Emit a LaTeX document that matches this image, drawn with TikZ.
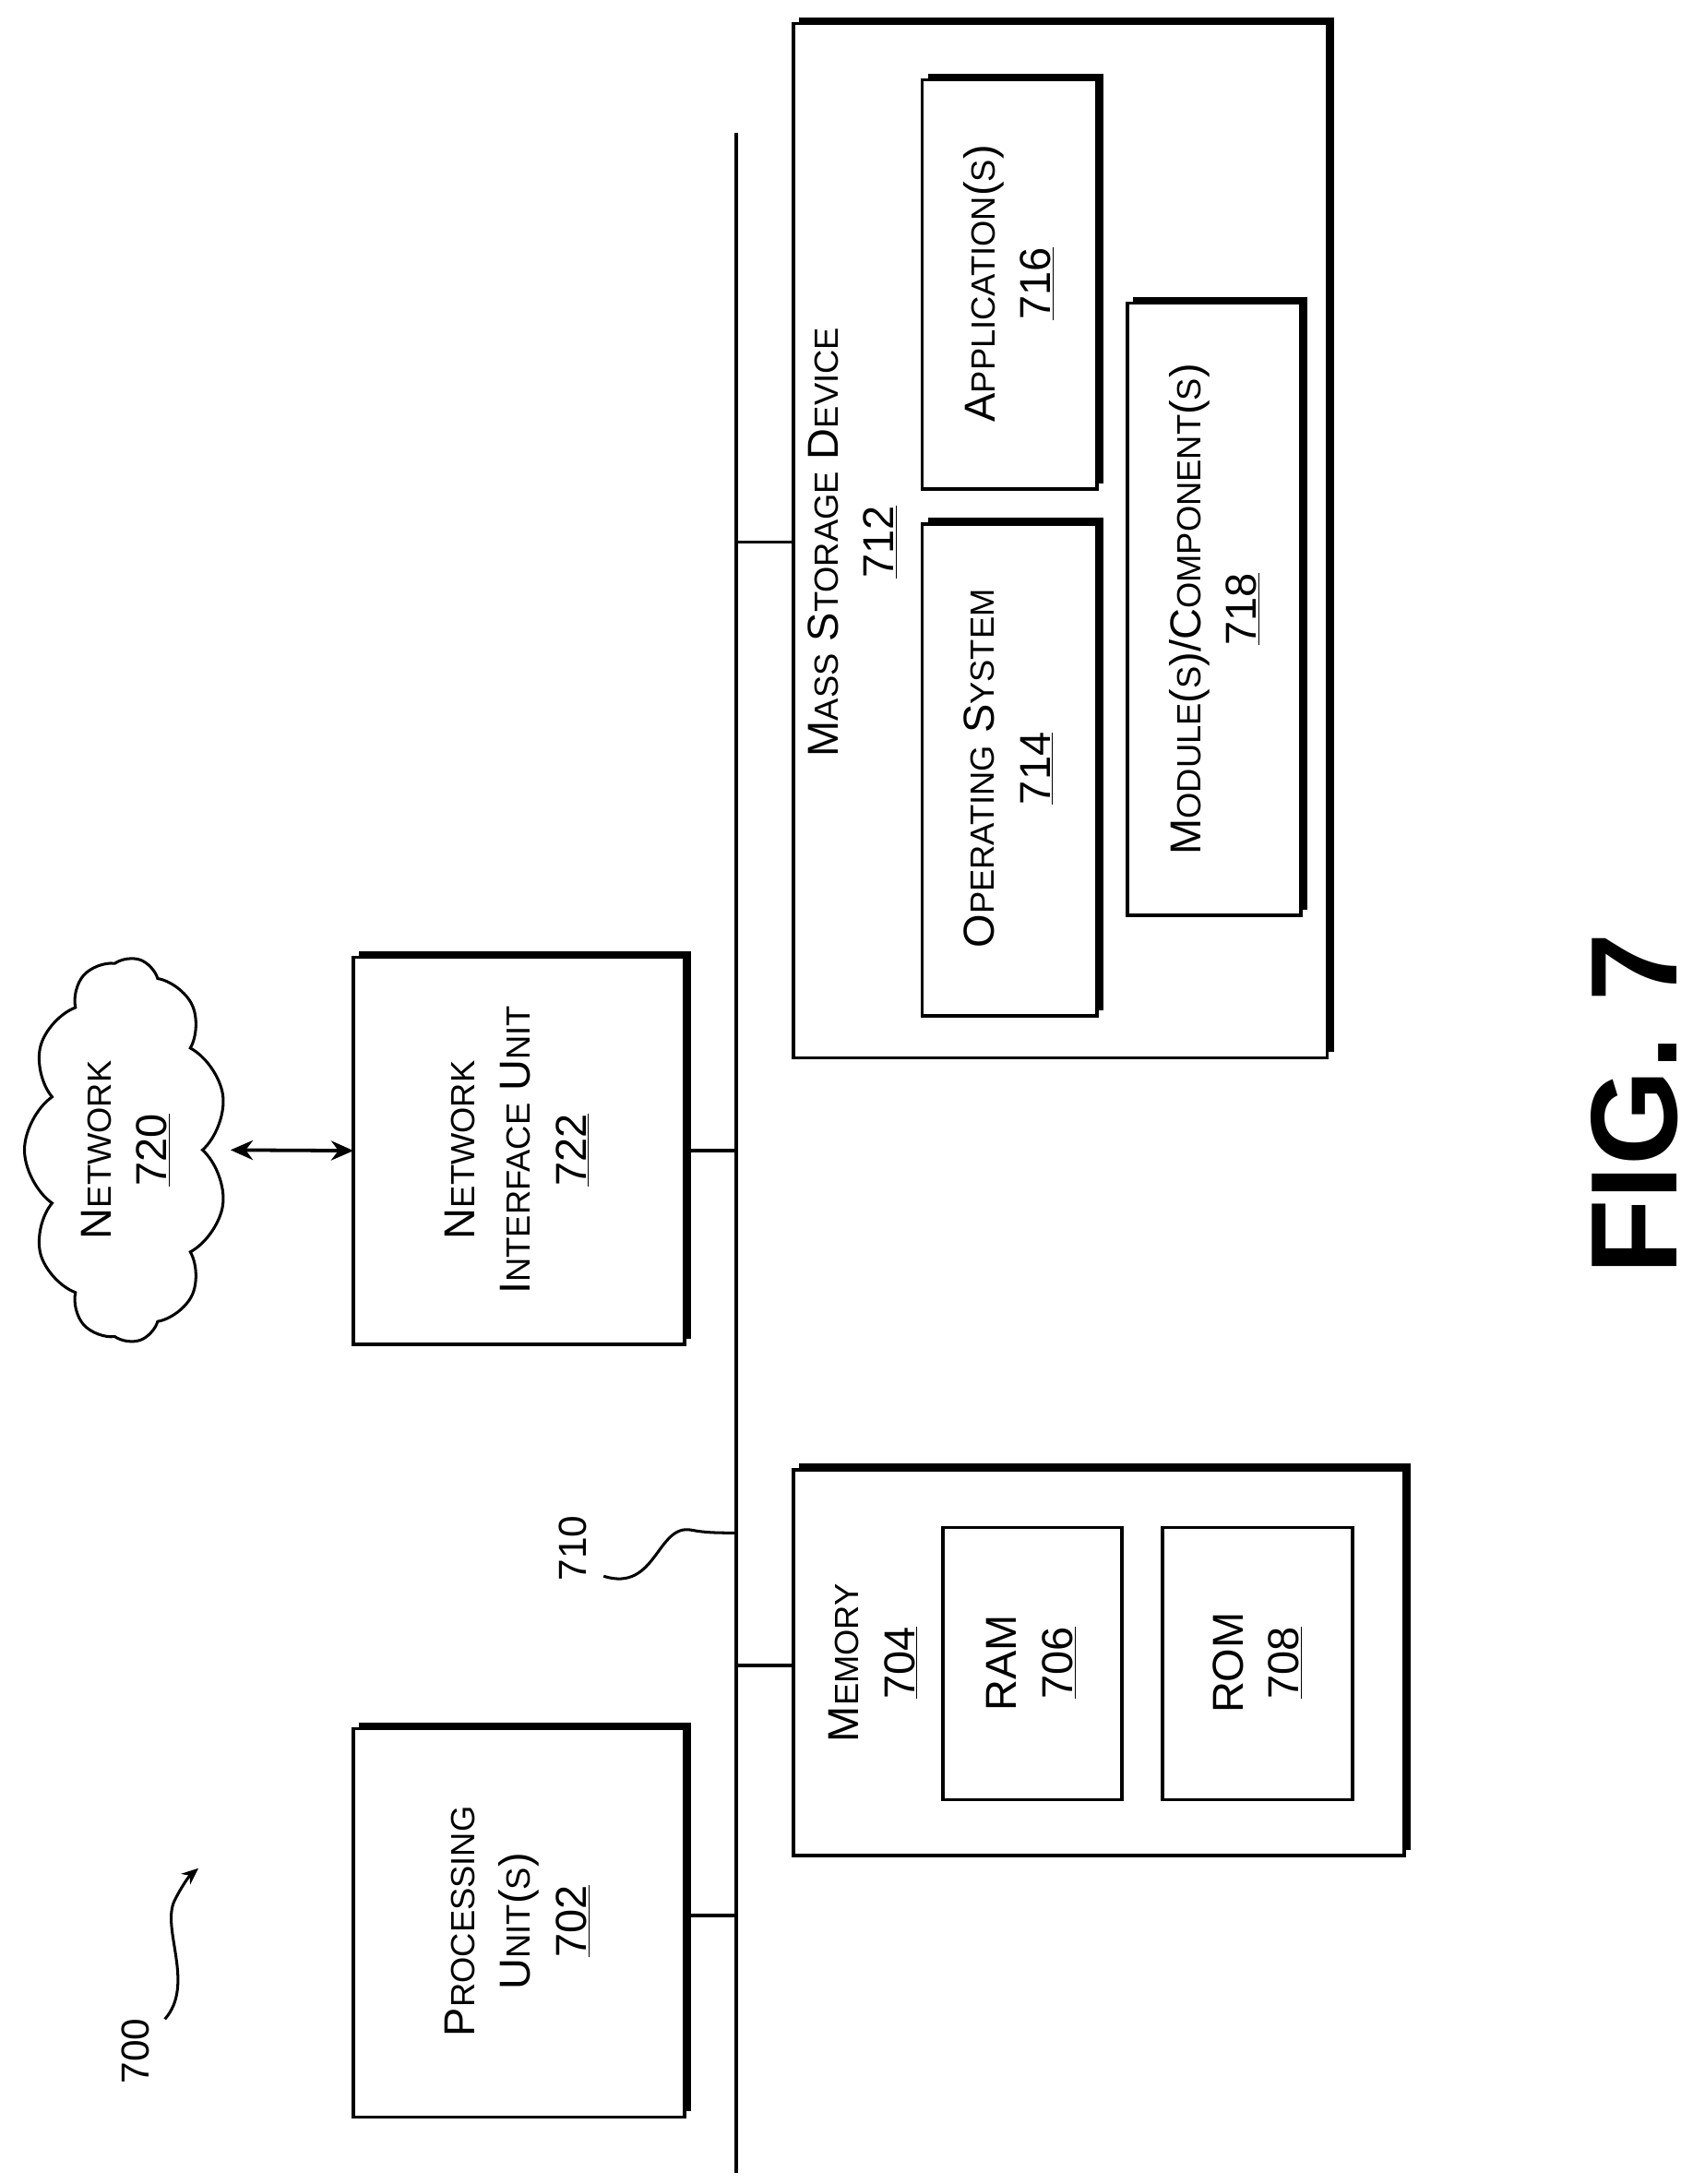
\documentclass[tikz,border=0pt]{standalone}
\usepackage{fontspec}
\setmainfont{Liberation Sans}
\usetikzlibrary{shapes.symbols,arrows.meta}
\newcommand\sm[1]{{\fontsize{24}{28}\selectfont #1}}
\begin{document}
\begin{tikzpicture}[x=1pt,y=-1pt,
  box/.style={draw,line width=2.3pt},
  sh/.style={line width=5pt},
  lbl/.style={rotate=90,align=center,font=\fontsize{31}{40}\selectfont},
  ln/.style={line width=2.5pt}]
\useasboundingbox (0,0) rectangle (1220,1563);
\newcommand\shbox[5]{% name x1 y1 x2 y2
  \draw[box] (#2,#3) rectangle (#4,#5);
  \coordinate (#1) at ({(#2+#4)/2},{(#3+#5)/2});
  \coordinate (#1-w) at (#2,{(#3+#5)/2});
  \coordinate (#1-e) at (#4,{(#3+#5)/2});
  \draw[sh] (#2+4,#3-2) -- (#4+2,#3-2) -- (#4+2,#5-4);}
% bus
\coordinate (bt) at (527,95); \coordinate (bb) at (527,1555);
\draw[ln] (bt) -- (bb);
% boxes
\shbox{pu}{253}{1237}{490}{1515}
\shbox{mem}{568}{1052}{1005}{1328}
\draw[box] (675,1093) rectangle (803,1288);
\draw[box] (832,1093) rectangle (968,1288);
\shbox{niu}{253}{685}{490}{962}
\shbox{msd}{568}{17}{950}{757}
\shbox{os}{660}{375}{785}{727}
\shbox{app}{660}{57}{785}{350}
\shbox{mod}{807}{217}{931}{655}
% texts
\node[lbl] (tpu) at (370,1375) {P\sm{ROCESSING}\\U\sm{NIT}(\sm{S})\\\underline{702}};
\node[lbl] (tmem) at (625,1190) {M\sm{EMORY}\\\underline{704}};
\node[lbl] (tram) at (738,1190) {RAM\\\underline{706}};
\node[lbl] (trom) at (900,1190) {ROM\\\underline{708}};
\node[lbl] (tniu) at (370,823) {N\sm{ETWORK}\\I\sm{NTERFACE} U\sm{NIT}\\\underline{722}};
\node[lbl] (tmsd) at (610,388) {M\sm{ASS} S\sm{TORAGE} D\sm{EVICE}\\\underline{712}};
\node[lbl] (tos) at (722,550) {O\sm{PERATING} S\sm{YSTEM}\\\underline{714}};
\node[lbl] (tapp) at (722,203) {A\sm{PPLICATION}(\sm{S})\\\underline{716}};
\node[lbl] (tmod) at (869,436) {M\sm{ODULE}(\sm{S})/C\sm{OMPONENT}(\sm{S})\\\underline{718}};
% cloud
\node[cloud,draw,line width=2pt,cloud puffs=11,cloud puff arc=110,minimum width=275pt,minimum height=145pt,rotate=90] (net) at (90,823) {};
\node[lbl] at (90,823) {N\sm{ETWORK}\\\underline{720}};
% connectors
\draw[ln] (pu-e) ++(0,-5) coordinate (a) -- (a -| bt);
\draw[ln] (527,1192) coordinate (m1) -- (m1 -| mem-w);
\draw[ln] (niu-e) -- (niu-e -| bt);
\draw[ln] (527,388) coordinate (m2) -- (m2 -| msd-w);
\draw[ln,{Stealth[length=16pt,width=14pt]}-{Stealth[length=16pt,width=14pt]}] (165,823) -- (niu-w);
% 700, 710
\node[rotate=90,font=\fontsize{28}{30}\selectfont] (l700) at (97,1468) {700};
\coordinate (p700) at (142,1337);
\draw[line width=2pt,-{Stealth[length=12pt,width=10pt]}] (118,1445) .. controls (140,1420) and (115,1380) .. (125,1360) .. controls (130,1350) and (135,1343) .. (p700);
\node[rotate=90,font=\fontsize{28}{30}\selectfont] (l710) at (410,1108) {710};
\coordinate (p710) at (527,1097);
\draw[line width=2pt] (432,1128) .. controls (470,1140) and (470,1090) .. (495,1095) .. controls (505,1097) and (515,1097) .. (p710);
% fig
\node[rotate=90,font=\bfseries\fontsize{88}{100}\selectfont,inner sep=0pt] (fig) at (1170,790) {FIG. 7};
\end{tikzpicture}
\end{document}
